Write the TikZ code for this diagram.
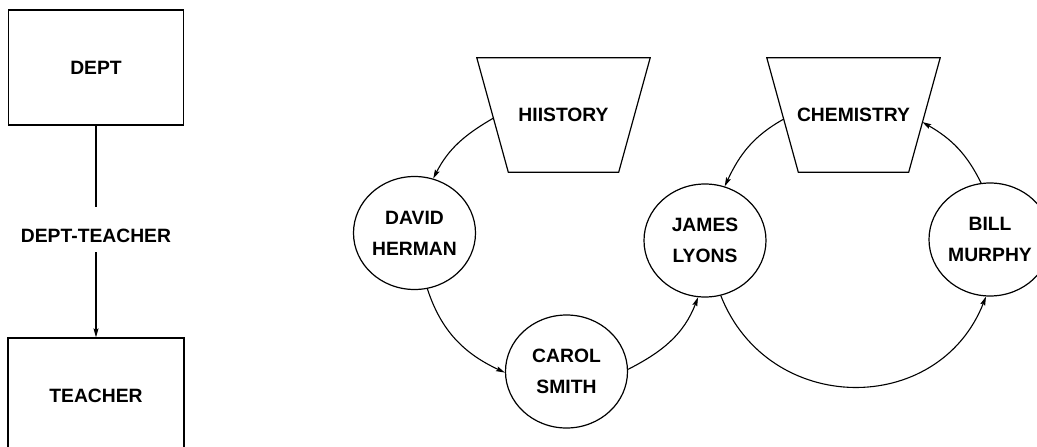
\documentclass[tikz,border=0pt]{standalone}
\usepackage{fontspec}
\setmainfont{Liberation Sans}
\usetikzlibrary{shapes.geometric,arrows.meta}

\tikzset{
  lbl/.style={font=\bfseries\fontsize{19.3pt}{31pt}\selectfont, align=center},
  ent/.style={lbl, draw, line width=1.2pt, rectangle, minimum width=175pt, minimum height=115pt, inner sep=0pt},
  % owner box: an invisible frame whose outline is drawn as a trapezium below
  owner/.style={lbl, rectangle, minimum width=173pt, minimum height=114pt, inner sep=0pt},
  outline/.style={line width=1.2pt, line join=miter},
  person/.style={lbl, draw, line width=1.2pt, ellipse, minimum width=122pt, minimum height=113pt, inner sep=0pt},
  link/.style={line width=1.1pt, -{Stealth[length=9pt,width=5pt,inset=1.5pt]}},
  plain/.style={line width=1.1pt}
}

% trapezium outline on an owner node: full width on top, 31.5pt narrower on each side at the bottom
\newcommand{\ownertrap}[1]{%
  \draw[outline] (#1.north west) -- (#1.north east)
    -- ([xshift=-31.5pt]#1.south east) -- ([xshift=31.5pt]#1.south west) -- cycle;}

\begin{document}
\begin{tikzpicture}[x=1pt,y=-1pt]
  \useasboundingbox (0,0) rectangle (1037,447);
  \clip (0,0) rectangle (1037,447);
  \fill[white] (0,0) rectangle (1037,447);

  % schema: record types and the set that links them
  \node[ent] (deptbox) at (96,67.5) {DEPT};
  \node[ent, minimum width=176pt] (teacherbox) at (96,395.5) {TEACHER};
  \node[lbl, inner sep=0pt, text height=35pt, text depth=10pt, anchor=base] (setname) at (96,242) {DEPT-TEACHER};
  \draw[plain] (deptbox) -- (setname);
  \draw[link] (setname) -- (teacherbox);

  % occurrences: owner records
  \node[owner] (history) at (563.5,115) {HIISTORY};
  \node[owner] (chemistry) at (853.5,115) {CHEMISTRY};
  \ownertrap{history}
  \ownertrap{chemistry}
  % points on the slanted sides where the set rings meet them
  \path (history.center) ++(-69.9,3) coordinate (history-w);
  \path (chemistry.center) ++(-69.6,4) coordinate (chemistry-w);
  \path (chemistry.center) ++(68.8,7) coordinate (chemistry-e);

  % occurrences: member records
  \node[person] (david) at (414.5,233) {DAVID\\HERMAN};
  \node[person] (carol) at (566.5,371.5) {CAROL\\SMITH};
  \node[person] (james) at (705,240.5) {JAMES\\LYONS};
  \node[person] (bill) at (990,239.5) {BILL\\MURPHY};

  % set rings
  \draw[link] (history-w) to[out=210, in=63] (david.71);
  \draw[link] (david.283) to[out=288, in=155] (carol.181);
  \draw[link] (carol.2) to[out=27, in=249] (james.263);

  \draw[link] (chemistry-w) to[out=209, in=65] (james.70);
  \draw[link] (james.286) to[out=291.5, in=248.5, looseness=1.25] (bill.266);
  \draw[link] (bill.99) to[out=116, in=330] (chemistry-e);
\end{tikzpicture}
\end{document}
